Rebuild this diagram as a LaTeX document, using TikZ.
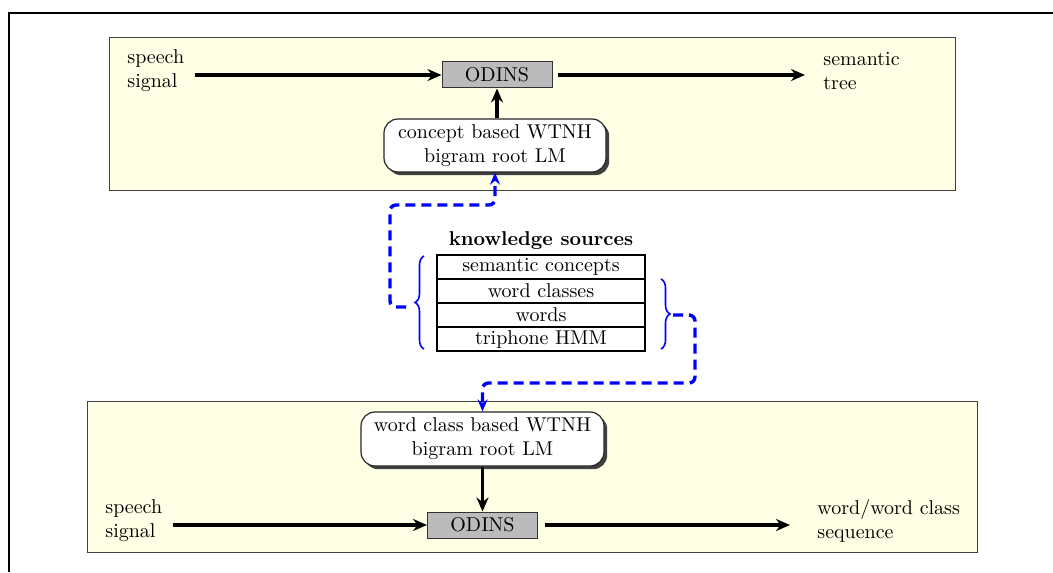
\documentclass[tikz,border=0pt]{standalone}
\usetikzlibrary{arrows.meta,shadows,decorations.pathreplacing}
\definecolor{panel}{RGB}{255,255,230}
\definecolor{odinsgray}{RGB}{187,187,187}
\tikzset{
  panelbox/.style={draw=black!75, line width=0.5pt, fill=panel},
  odins/.style={draw=black!80, line width=0.5pt, fill=odinsgray, minimum width=55pt, minimum height=13pt, inner sep=0pt},
  lmbox/.style={draw=black!85, line width=0.6pt, fill=white, rounded corners=7pt, align=center, inner sep=0pt,
    drop shadow={shadow xshift=1.6pt, shadow yshift=-1.6pt, fill=black!75, opacity=1}},
  flow/.style={line width=1.8pt, -{Stealth[length=7pt,width=6pt]}},
  lbl/.style={align=left, anchor=west, inner sep=0pt},
  ksrow/.style={draw, line width=0.9pt, minimum width=104pt, minimum height=12pt, inner sep=0pt, outer sep=0pt},
  link/.style={blue, line width=1.7pt, dash pattern=on 5pt off 3pt, rounded corners=3pt, -{Stealth[length=6pt,width=5pt]}},
  bracket/.style={blue, line width=0.8pt, decorate, decoration={brace, amplitude=4.5pt}}
}
\begin{document}
\begin{tikzpicture}[x=0.5pt,y=-0.5pt]
\useasboundingbox (0,0) rectangle (1053,572);
% outer frame
\draw[line width=1pt] (9,572) -- (9,13) -- (1053,13);

% upper stage: semantic decoding
\draw[panelbox] (109,38) rectangle (955,191);
\node[lbl] (sig1) at (127,71) {speech\\signal};
\node[odins] (od1) at (497,75) {ODINS};
\node[lbl] (tree) at (823,71) {semantic\\tree};
\node[lmbox, minimum width=111pt, minimum height=26.5pt] (clm) at (495,145.5) {concept based WTNH\\bigram root LM};
\coordinate (s1) at (195,75);
\coordinate (t1) at (805,75);
\draw[flow] (s1) -- (od1.west);
\draw[flow] (od1.east) ++(5,0) coordinate (o1) (o1) -- (t1);
\draw[flow] (clm.north -| od1.south) -- (od1.south);

% knowledge sources
\node[font=\bfseries, inner sep=0pt] (kst) at (541,241) {knowledge sources};
\node[ksrow] (r1) at (541,267) {semantic concepts};
\node[ksrow, anchor=north] (r2) at (r1.south) {word classes};
\node[ksrow, anchor=north] (r3) at (r2.south) {words};
\node[ksrow, anchor=north] (r4) at (r3.south) {triphone HMM};
\coordinate (lbb) at (424,349);
\coordinate (lbt) at (424,256);
\coordinate (rbt) at (661,279);
\coordinate (rbb) at (661,349);
\draw[bracket] (lbb) -- (lbt);
\draw[bracket] (rbt) -- (rbb);
\coordinate (ltip) at (406,307);
\coordinate (rtip) at (673,315);

% lower stage: word class decoding
\draw[panelbox] (87,401) rectangle (977,552);
\node[lmbox, minimum width=121.5pt, minimum height=27pt] (wlm) at (482.5,439) {word class based WTNH\\bigram root LM};
\node[odins] (od2) at (482.5,525) {ODINS};
\node[lbl] (sig2) at (105,521) {speech\\signal};
\node[lbl] (seq) at (817,521) {word/word class\\sequence};
\coordinate (s2) at (173,525);
\coordinate (t2) at (790,525);
\draw[flow] (s2) -- (od2.west);
\draw[flow] (od2.east) ++(7,0) coordinate (o2) (o2) -- (t2);
\draw[flow] (wlm.south) -- (od2.north);

% knowledge links
\draw[link] (ltip) -- (390,307) -- (390,205) -- (495,205) -- (clm.south);
\draw[link] (rtip) -- (695,315) -- (695,383) -- (482.5,383) -- (wlm.north);
\end{tikzpicture}
\end{document}
